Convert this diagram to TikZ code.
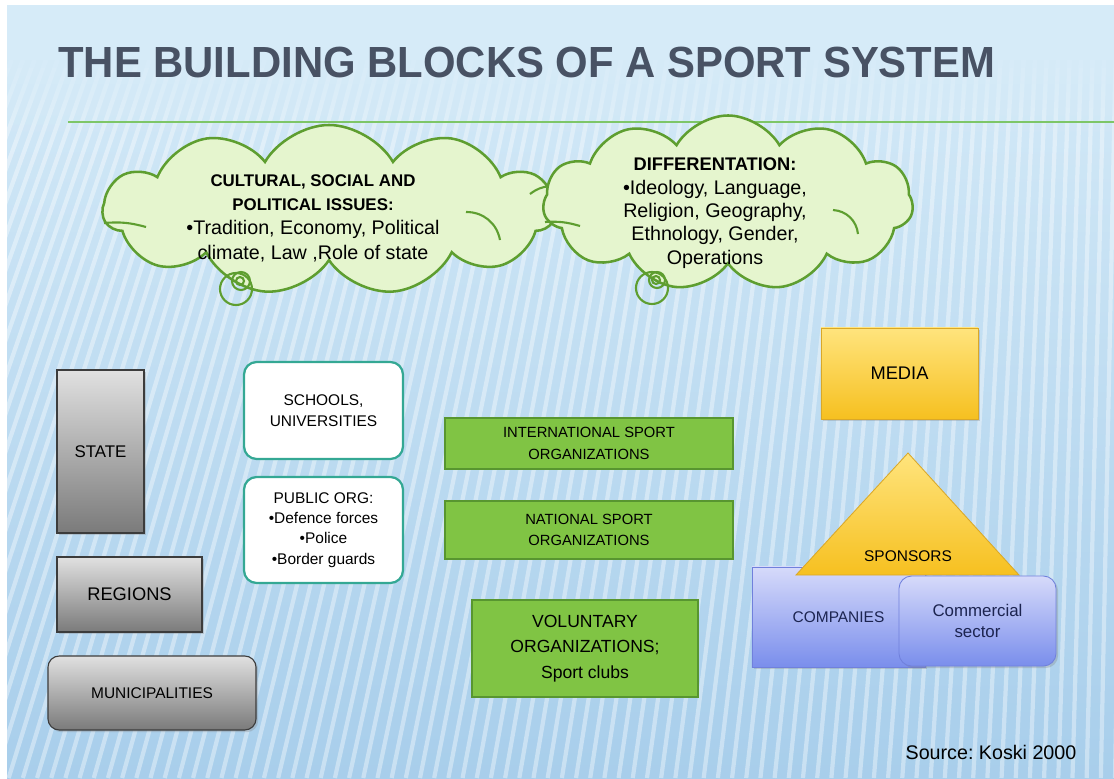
\documentclass[tikz,border=0pt]{standalone}
\usepackage{fontspec}
\setmainfont{Liberation Sans}
\usetikzlibrary{shapes.symbols,shadows}

\definecolor{bgtop}{RGB}{214,235,248}
\definecolor{bgbot}{RGB}{168,206,235}
\definecolor{titlegray}{RGB}{72,82,100}
\definecolor{rulegreen}{RGB}{126,198,104}
\definecolor{cloudfill}{RGB}{229,245,206}
\definecolor{cloudline}{RGB}{94,158,48}
\definecolor{tealline}{RGB}{52,168,148}
\definecolor{boxgreen}{RGB}{128,196,68}
\definecolor{boxgreenline}{RGB}{88,150,48}
\definecolor{grayline}{RGB}{60,60,60}
\definecolor{yellowtop}{RGB}{255,228,125}
\definecolor{yellowbot}{RGB}{246,192,32}
\definecolor{yellowline}{RGB}{218,168,40}
\definecolor{purpletop}{RGB}{214,218,250}
\definecolor{purplebot}{RGB}{122,142,236}
\definecolor{purpleline}{RGB}{112,128,220}
\definecolor{navytext}{RGB}{28,36,80}

\newcommand\setfs[2]{\fontsize{#1}{#2}\selectfont}

\tikzset{
  softshadow/.style={drop shadow={opacity=0.3,shadow xshift=1.5pt,shadow yshift=-1.5pt}},
  govbox/.style={draw=grayline, line width=0.8pt, top color=black!12, bottom color=black!52, softshadow, align=center},
  pubbox/.style={draw=tealline, line width=1.6pt, fill=white, rounded corners=9pt, align=center, font=\setfs{11}{14.5}},
  sportbox/.style={draw=boxgreenline, line width=0.8pt, fill=boxgreen, align=center, font=\setfs{10.5}{15.5}},
  mediabox/.style={draw=yellowline, line width=0.6pt, top color=yellowtop, bottom color=yellowbot, softshadow, align=center},
  firmbox/.style={draw=purpleline, line width=0.6pt, top color=purpletop, bottom color=purplebot, softshadow, align=center, text=navytext},
  thought/.style={cloud, cloud puffs=11, cloud puff arc=120, cloud ignores aspect, draw=cloudline, fill=cloudfill, line width=1.8pt, inner sep=0pt},
  bubble/.style={draw=cloudline, line width=1.5pt}
}

\begin{document}
\begin{tikzpicture}[x=0.025cm,y=-0.025cm]
    \useasboundingbox (0,0) rectangle (1114,778);
    % background with stripes
    \fill[white] (0,0) rectangle (1114,778);
    \shade[top color=bgtop, bottom color=bgbot] (7,5) rectangle (1114,778);
    \begin{scope}
      \clip (7,5) rectangle (1114,778);
      \foreach \i in {0,...,100} {
        \pgfmathsetmacro\sx{\i*11.5}
        \pgfmathsetmacro\sb{\sx-260*(1-\sx/1114)-15}
        \draw[white, opacity=0.38, line width=3pt] (\sx,60) -- (\sb,778);
      }
      \fill[bgtop] (7,5) rectangle (1114,60);
      \foreach \k in {0,...,9}
        \fill[bgtop, opacity=0.85-0.085*\k] (7,60+8*\k) rectangle (1114,68+8*\k);
    \end{scope}

    \node[anchor=west, inner sep=0pt, text=titlegray, font=\bfseries\setfs{31}{31}] (title) at (58,62) {\scalebox{0.96}[1]{THE BUILDING BLOCKS OF A SPORT SYSTEM}};
    \coordinate (rulestart) at (68,122);
    \coordinate (ruleend) at (1114,122);
    \draw[rulegreen, line width=2pt] (rulestart) -- (ruleend);

    % the two clouds
    \node[thought, minimum width=11.3cm, minimum height=4.25cm] (cloudA) at (329,210) {};
    \draw[bubble] (104,223) to[bend left=10] (146,227);
    \draw[bubble] (466,212) to[bend left=40] (500,240);
    \draw[bubble] (530,194) to[bend left=15] (550,186);
    \draw[bubble] (236,289) circle [radius=16];
    \draw[bubble] (241,281) circle [radius=9];
    \draw[bubble] (240,281) circle [radius=4];
    \node[align=center, font=\setfs{14}{17.3}] (cultural) at (313,218) {{\bfseries\setfs{12}{17.3}CULTURAL, SOCIAL AND}\\{\bfseries\setfs{12}{17.3}POLITICAL ISSUES:}\\•Tradition, Economy, Political\\climate, Law ,Role of state};

    \node[thought, minimum width=9.25cm, minimum height=4.375cm] (cloudB) at (728,203) {};
    \draw[bubble] (545,222) to[bend left=10] (580,226);
    \draw[bubble] (833,210) to[bend left=40] (858,234);
    \draw[bubble] (652,288) circle [radius=16];
    \draw[bubble] (657,280) circle [radius=8];
    \draw[bubble] (656,280) circle [radius=4];
    \node[align=center, font=\setfs{14}{16.6}] (differ) at (715,213) {{\bfseries\setfs{13}{16.6}DIFFERENTATION:}\\•Ideology, Language,\\Religion, Geography,\\Ethnology, Gender,\\Operations};

    % public sector
    \node[govbox, minimum width=2.175cm, minimum height=4.075cm, font=\setfs{12}{14}] (state) at (100.5,451.5) {STATE};
    \node[govbox, minimum width=3.625cm, minimum height=1.875cm, font=\setfs{13}{15}] (regions) at (129.5,594.5) {REGIONS};
    \node[govbox, rounded corners=8pt, minimum width=5.2cm, minimum height=1.85cm, font=\setfs{11}{13}] (municip) at (152,693) {MUNICIPALITIES};

    \node[pubbox, minimum width=3.975cm, minimum height=2.425cm] (schools) at (323.5,410.5) {SCHOOLS,\\UNIVERSITIES};
    \node[pubbox, minimum width=3.975cm, minimum height=2.65cm] (publicorg) at (323.5,530) {PUBLIC ORG:\\•Defence forces\\•Police\\•Border guards};

    % sport organizations
    \node[sportbox, minimum width=7.2cm, minimum height=1.275cm] (intl) at (589,443.5) {INTERNATIONAL SPORT\\ORGANIZATIONS};
    \node[sportbox, minimum width=7.2cm, minimum height=1.45cm] (national) at (589,530) {NATIONAL SPORT\\ORGANIZATIONS};
    \node[sportbox, minimum width=5.65cm, minimum height=2.425cm, font=\setfs{12.5}{18}] (voluntary) at (585,648.5) {VOLUNTARY\\ORGANIZATIONS;\\Sport clubs};

    % commercial side
    \node[mediabox, minimum width=3.925cm, minimum height=2.275cm, font=\setfs{13}{15}] (media) at (899.5,373.5) {MEDIA};
    \node[firmbox, minimum width=4.325cm, minimum height=2.5cm, font=\setfs{11}{13}] (companies) at (838.5,617) {COMPANIES};
    \coordinate (apex) at (908,453);
    \coordinate (baseL) at (796,575);
    \coordinate (baseR) at (1019,575);
    \draw[yellowline, line width=0.6pt, top color=yellowtop, bottom color=yellowbot] (apex) -- (baseR) -- (baseL) -- cycle;
    \node[font=\setfs{11}{13}] (sponsors) at (908,556) {SPONSORS};
    \node[firmbox, rounded corners=9pt, minimum width=3.925cm, minimum height=2.25cm, font=\setfs{12}{15}] (commercial) at (977.5,621) {Commercial\\sector};

    \node[font=\setfs{14}{16}] (source) at (991,752) {Source:\ Koski 2000};
\end{tikzpicture}
\end{document}
